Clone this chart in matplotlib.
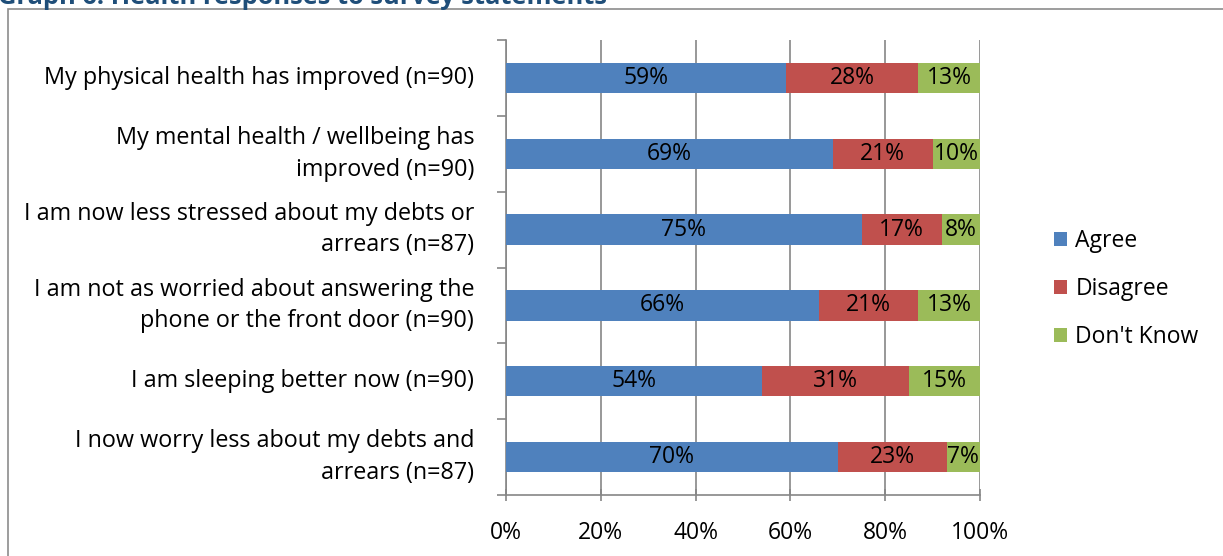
import matplotlib.pyplot as plt
from matplotlib.patches import Patch, Rectangle
from matplotlib.transforms import ScaledTranslation

# survey statements, top to bottom
statements = [
    "My physical health has improved (n=90)",
    "My mental health / wellbeing has\nimproved (n=90)",
    "I am now less stressed about my debts or\narrears (n=87)",
    "I am not as worried about answering the\nphone or the front door (n=90)",
    "I am sleeping better now (n=90)",
    "I now worry less about my debts and\narrears (n=87)",
]
agree = [59, 69, 75, 66, 54, 70]
disagree = [28, 21, 17, 21, 31, 23]
dont_know = [13, 10, 8, 13, 15, 7]

series = ["Agree", "Disagree", "Don't Know"]
colors = ["#4F81BD", "#C0504D", "#9BBB59"]
xticks = [0, 20, 40, 60, 80, 100]

W, H = 1223, 556
FS = 16.8
plt.rcParams['font.family'] = ['Open Sans', 'DejaVu Sans']
fig = plt.figure(figsize=(W / 100, H / 100), dpi=100)

# outer frame of the chart box
fig.add_artist(Rectangle((8 / W, -0.1), 1.2, 1 - 9 / H + 0.1, transform=fig.transFigure,
                         fill=False, edgecolor="#8C8C8C", linewidth=1.2))
fig.text(-2 / W, 1 - 4 / H, "Graph 6: Health responses to survey statements",
         color="#1F4E79", fontsize=18.3, fontweight="bold", va="baseline", ha="left")

ax = fig.add_axes([506 / W, 1 - 495 / H, (980 - 506) / W, (495 - 40) / H])

ypos = list(range(len(statements)))
left = [0] * len(statements)
for name, vals, col in zip(series, [agree, disagree, dont_know], colors):
    bars = ax.barh(ypos, vals, left=left, height=0.4, color=col, label=name, zorder=3)
    for b, v in zip(bars, vals):
        ax.text(b.get_x() + b.get_width() / 2, b.get_y() + b.get_height() / 2, f"{v}%",
                ha="center", va="center", fontsize=16.5, color="black", zorder=4)
    left = [l + v for l, v in zip(left, vals)]

ax.set_xlim(0, 100)
ax.set_ylim(len(statements) - 0.5, -0.5)
ax.set_xticks(xticks)
ax.set_xticklabels([f"{t}%" for t in xticks], fontsize=16.5)
ax.set_yticks(ypos)
ax.set_yticklabels(statements, fontsize=FS, ha="right", va="center",
                   multialignment="right", linespacing=1.42)
# nudge the category labels down a touch
nudge = ScaledTranslation(0, -2 / 100, fig.dpi_scale_trans)
for lbl in ax.get_yticklabels():
    lbl.set_transform(lbl.get_transform() + nudge)
ax.set_yticks([i - 0.5 for i in range(len(statements) + 1)], minor=True)
ax.tick_params(axis="y", which="major", length=0, pad=23)
ax.tick_params(axis="y", which="minor", length=6.5, color="#868686", width=1.2)
ax.tick_params(axis="x", length=8, color="#868686", width=1.2, pad=15, direction="inout")
ax.grid(axis="x", color="#868686", linewidth=1.2, zorder=0)
for s in ["top", "right"]:
    ax.spines[s].set_visible(False)
for s in ["left", "bottom"]:
    ax.spines[s].set_color("#868686")
    ax.spines[s].set_linewidth(1.2)

handles = [Patch(facecolor=c, label=n) for n, c in zip(series, colors)]
fig.legend(handles=handles, loc="center left", bbox_to_anchor=(1033 / W, 1 - 289 / H),
           frameon=False, fontsize=16.5, handlelength=0.6, handleheight=0.6,
           handletextpad=0.35, labelspacing=1.05)

fig.savefig("out.png", dpi=100)
